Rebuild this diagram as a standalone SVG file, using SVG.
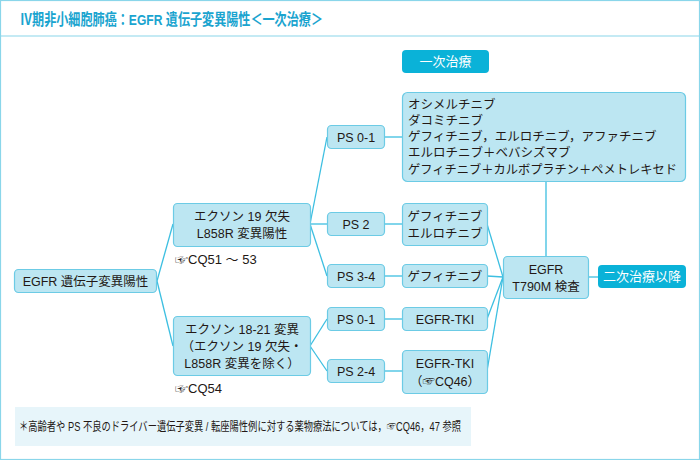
<svg xmlns="http://www.w3.org/2000/svg" width="700" height="460" viewBox="0 0 700 460">
<defs>
<style>
text{font-family:"Liberation Sans","Noto Sans CJK JP",sans-serif;font-size:12.5px;fill:#231815}
.node{fill:#bce6f2;stroke:#6ccbe5;stroke-width:1.2}
.dark{fill:#0ab2d8}
.w{fill:#ffffff;font-size:13px}
.c{text-anchor:middle}
.conn line,.conn polyline{stroke:#3dbfe1;stroke-width:1.3;fill:none}
</style>
</defs>
<rect x="0.5" y="0.5" width="699" height="459" fill="#ffffff" stroke="#8ad6ea" stroke-width="1.2"/>
<line x1="0" y1="36" x2="700" y2="36" stroke="#8ad6ea" stroke-width="1.2"/>
<text x="20" y="25" style="font-size:15.5px;font-weight:bold;fill:#1aa4cf" textLength="303" lengthAdjust="spacingAndGlyphs">Ⅳ期非小細胞肺癌：EGFR 遺伝子変異陽性＜一次治療＞</text>

<g class="conn">
<line x1="157" y1="281" x2="173" y2="224"/>
<line x1="157" y1="281" x2="173" y2="346"/>
<line x1="310" y1="224" x2="327" y2="137"/>
<line x1="310" y1="224" x2="327" y2="224"/>
<line x1="310" y1="224" x2="327" y2="276"/>
<line x1="310" y1="346" x2="327" y2="319"/>
<line x1="310" y1="346" x2="327" y2="371"/>
<line x1="385" y1="137" x2="402" y2="137"/>
<line x1="385" y1="224" x2="402" y2="224"/>
<line x1="385" y1="276" x2="402" y2="276"/>
<line x1="385" y1="319" x2="402" y2="319"/>
<line x1="385" y1="371" x2="402" y2="371"/>
<line x1="487" y1="224" x2="503" y2="277"/>
<line x1="487" y1="276" x2="503" y2="277"/>
<line x1="487" y1="319" x2="503" y2="277"/>
<line x1="487" y1="371" x2="503" y2="277"/>
<line x1="546" y1="182" x2="546" y2="256"/>
<line x1="588" y1="277" x2="598" y2="277"/>
</g>

<g id="first-line-label">
<rect class="dark" x="402" y="50" width="87" height="23" rx="4"/>
<text class="w c" x="445.5" y="66">一次治療</text>
</g>

<g id="root">
<rect class="node" x="14.5" y="269.5" width="142" height="23" rx="4"/>
<text class="c" x="85.5" y="285.5">EGFR 遺伝子変異陽性</text>
</g>

<g id="exon19">
<rect class="node" x="173.5" y="203.5" width="137" height="43" rx="4"/>
<text class="c" x="242" y="221">エクソン 19 欠失</text>
<text class="c" x="242" y="238">L858R 変異陽性</text>
</g>
<text x="175" y="264" style="font-size:13px">☞CQ51 ～ 53</text>

<g id="exon18-21">
<rect class="node" x="173.5" y="316.5" width="137" height="59" rx="4"/>
<text class="c" x="242" y="334">エクソン 18-21 変異</text>
<text class="c" x="242" y="351">（エクソン 19 欠失・</text>
<text class="c" x="242" y="368">L858R 変異を除く）</text>
</g>
<text x="175" y="393" style="font-size:13px">☞CQ54</text>

<g id="ps01a">
<rect class="node" x="327.5" y="125.5" width="57" height="23" rx="4"/>
<text class="c" x="356" y="141.5">PS 0-1</text>
</g>
<g id="ps2">
<rect class="node" x="327.5" y="212.5" width="57" height="23" rx="4"/>
<text class="c" x="356" y="228.5">PS 2</text>
</g>
<g id="ps34">
<rect class="node" x="327.5" y="264.5" width="57" height="23" rx="4"/>
<text class="c" x="356" y="280.5">PS 3-4</text>
</g>
<g id="ps01b">
<rect class="node" x="327.5" y="307.5" width="57" height="23" rx="4"/>
<text class="c" x="356" y="323.5">PS 0-1</text>
</g>
<g id="ps24">
<rect class="node" x="327.5" y="359.5" width="57" height="23" rx="4"/>
<text class="c" x="356" y="375.5">PS 2-4</text>
</g>

<g id="drugs-ps01">
<rect class="node" x="402.5" y="92.5" width="283" height="89" rx="5"/>
<text x="408" y="108.5">オシメルチニブ</text>
<text x="408" y="124.5">ダコミチニブ</text>
<text x="408" y="141">ゲフィチニブ，エルロチニブ，アファチニブ</text>
<text x="408" y="157">エルロチニブ＋ベバシズマブ</text>
<text x="408" y="173.5" textLength="269" lengthAdjust="spacingAndGlyphs">ゲフィチニブ＋カルボプラチン＋ペメトレキセド</text>
</g>
<g id="drugs-ps2">
<rect class="node" x="402.5" y="203.5" width="85" height="42" rx="4"/>
<text class="c" x="445" y="220.5">ゲフィチニブ</text>
<text class="c" x="445" y="237.5">エルロチニブ</text>
</g>
<g id="drugs-ps34">
<rect class="node" x="402.5" y="264.5" width="85" height="23" rx="4"/>
<text class="c" x="445" y="280.5">ゲフィチニブ</text>
</g>
<g id="tki1">
<rect class="node" x="402.5" y="307.5" width="85" height="23" rx="4"/>
<text class="c" x="445" y="323.5">EGFR-TKI</text>
</g>
<g id="tki2">
<rect class="node" x="402.5" y="350.5" width="85" height="43" rx="4"/>
<text class="c" x="445" y="367.5">EGFR-TKI</text>
<text class="c" x="445" y="386">（☞CQ46）</text>
</g>

<g id="t790m">
<rect class="node" x="503.5" y="256.5" width="85" height="42" rx="4"/>
<text class="c" x="546" y="273.5">EGFR</text>
<text class="c" x="546" y="290.5">T790M 検査</text>
</g>
<g id="second-line">
<rect class="dark" x="598" y="265" width="88" height="23" rx="4"/>
<text class="w c" x="642" y="281">二次治療以降</text>
</g>

<g id="footnote">
<rect x="15" y="407" width="456" height="39" fill="#e7f5fa"/>
<text x="19" y="431" style="font-size:12.5px" textLength="442" lengthAdjust="spacingAndGlyphs">＊高齢者や PS 不良のドライバー遺伝子変異 / 転座陽性例に対する薬物療法については，☞CQ46，47 参照</text>
</g>
</svg>
